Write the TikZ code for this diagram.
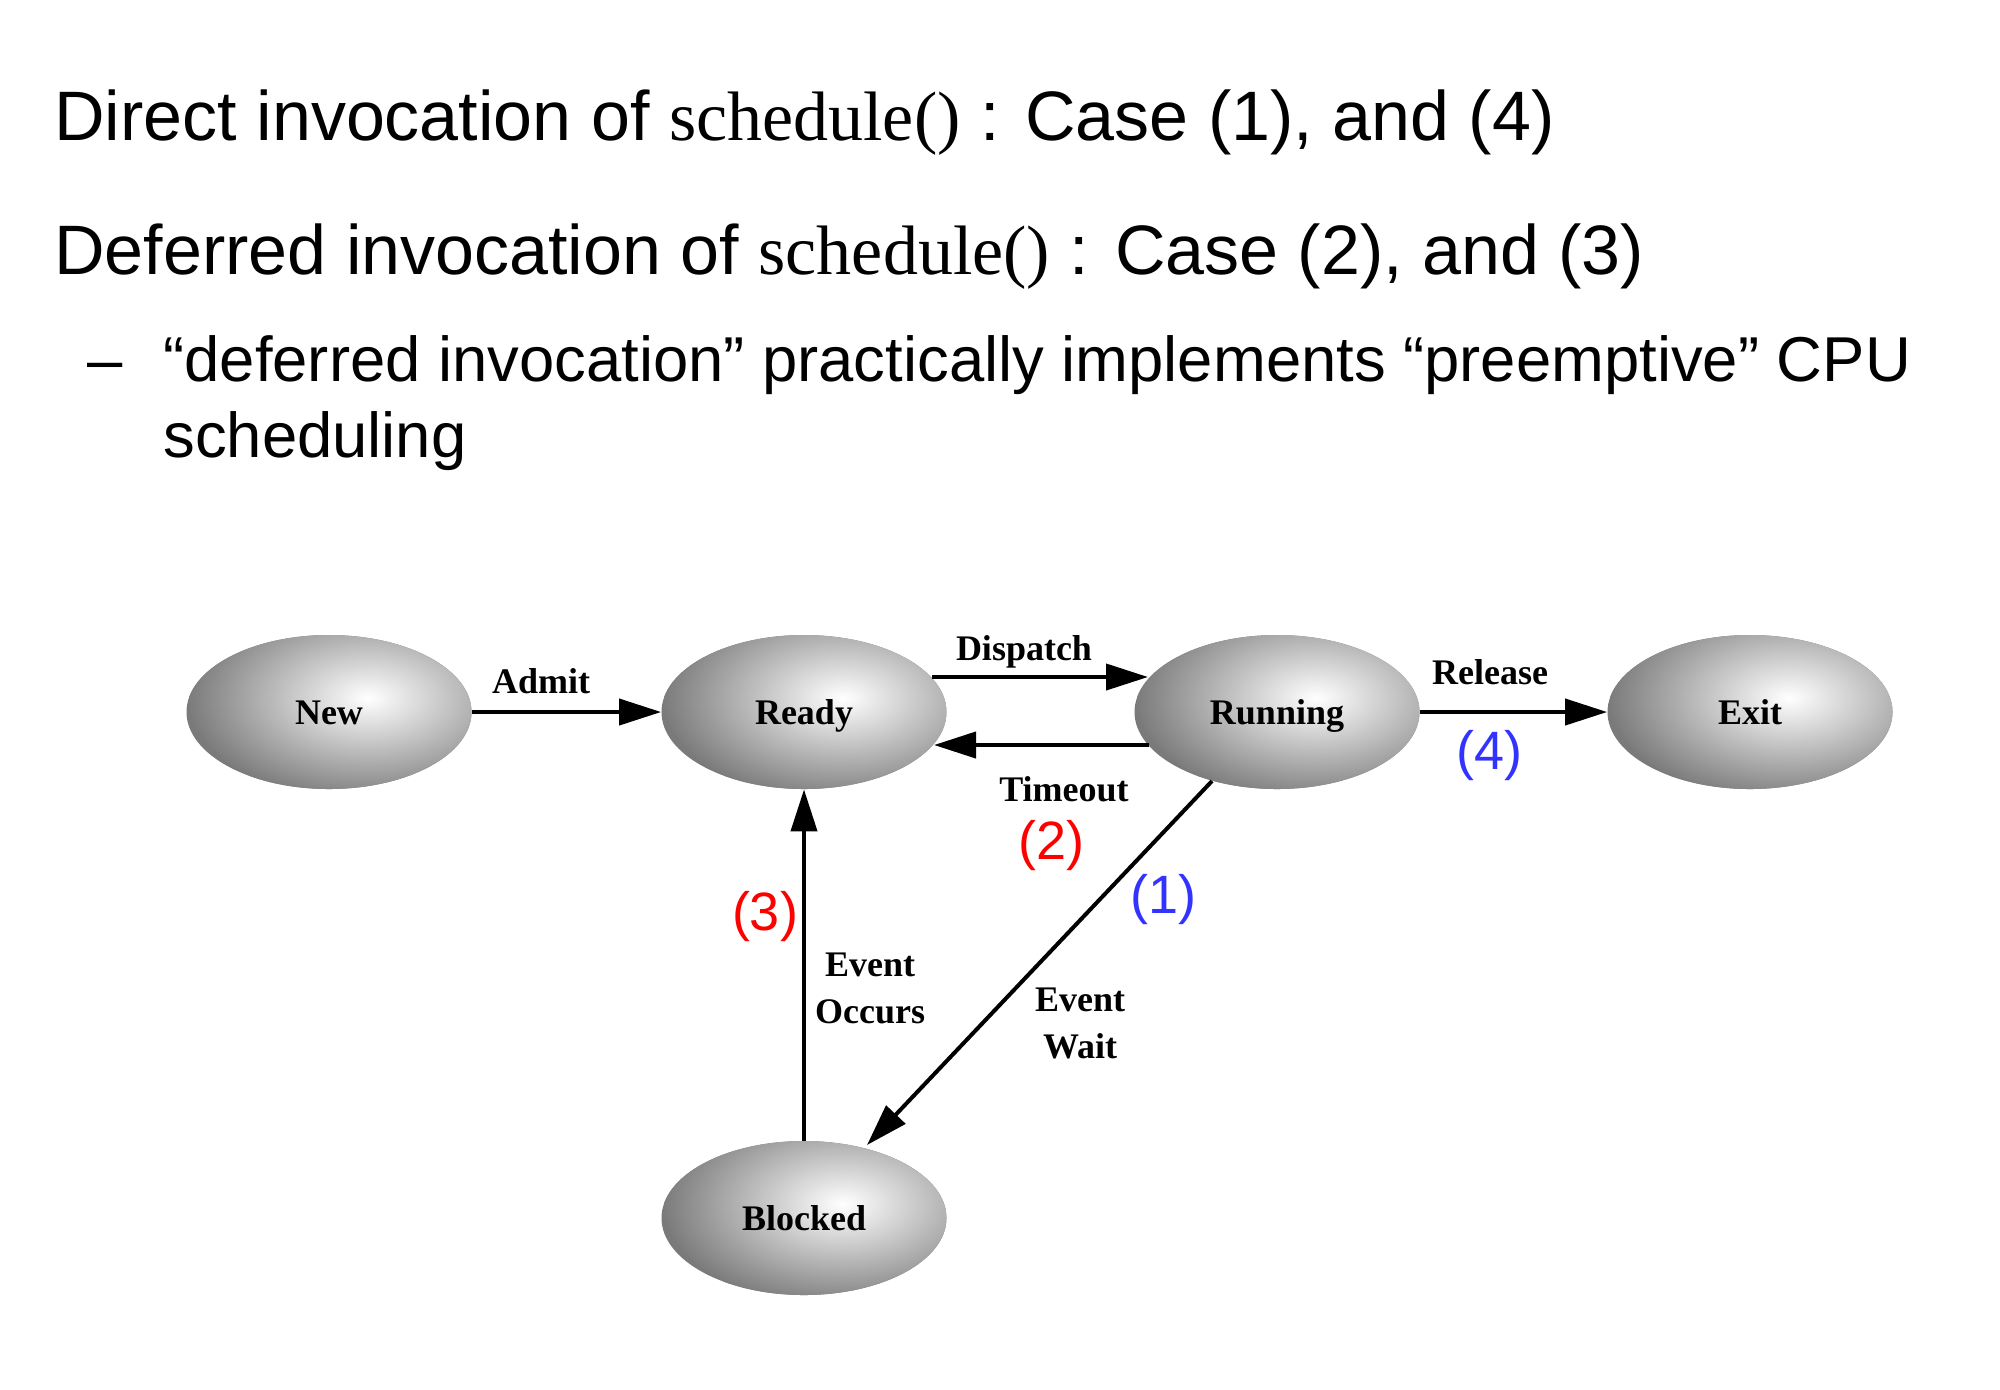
\documentclass[tikz,border=0pt]{standalone}
\usepackage{fontspec}
\setmainfont{Liberation Serif}
\newfontfamily\arialf{Liberation Sans}
\usetikzlibrary{shapes.geometric,arrows.meta,calc}
\definecolor{numred}{RGB}{255,0,0}
\definecolor{numblue}{RGB}{51,51,255}
\tikzset{
  state/.style={ellipse, minimum width=142.5pt, minimum height=77pt, inner sep=0pt,
    fill=black!52, text height=12pt, text depth=0pt,
    font=\bfseries\fontsize{18}{20}\selectfont,
    path picture={\shade[inner color=white, outer color=black!52]
      ([xshift=20pt,yshift=7pt]path picture bounding box.center) ellipse (90pt and 52pt);}},
  arr/.style={line width=2pt, -{Triangle[length=21pt,width=13pt]}},
  elab/.style={font=\bfseries\fontsize{18}{23.5}\selectfont, inner sep=0pt, align=center},
  numlab/.style={font=\arialf\fontsize{27}{30}\selectfont, inner sep=0pt},
  head/.style={font=\arialf\fontsize{35}{40}\selectfont, anchor=base west, inner sep=0pt},
  sub/.style={font=\arialf\fontsize{31.7}{36}\selectfont, anchor=base west, inner sep=0pt},
}
\begin{document}
\begin{tikzpicture}[x=0.5pt,y=-0.5pt]
\useasboundingbox[fill=white] (0,0) rectangle (2000,1389);
% heading text
\node[head] (t1) at (54,140) {Direct invocation of {\rmfamily schedule()} : Case (1), and (4)};
\node[head] (t2) at (54,274) {Deferred invocation of {\rmfamily schedule()} : Case (2), and (3)};
\node[sub] (dash) at (87,381) {–};
\node[sub] (t3) at (163,381) {“deferred invocation” practically implements “preemptive” CPU};
\node[sub] (t4) at (163,457) {scheduling};
% states
\node[state] (new) at (329,712) {New};
\node[state] (ready) at (804,712) {Ready};
\node[state] (running) at (1277,712) {Running};
\node[state] (exit) at (1750,712) {Exit};
\node[state] (blocked) at (804,1218) {Blocked};
% transitions
\draw[arr] (new) -- (ready);
\draw[arr] ($(ready.center)+(128,-35)$) -- ($(running.center)+(-129,-35)$);
\draw[arr] ($(running.center)+(-128,33)$) -- ($(ready.center)+(130,33)$);
\draw[arr] (running) -- (exit);
\draw[arr] ($(running.center)+(-65,69)$) -- ($(blocked.center)+(63,-73)$);
\draw[arr] (blocked) -- (ready);
% labels
\node[elab] (ladmit) at (541,681) {Admit};
\node[elab] (ldisp) at (1024,652) {Dispatch};
\node[elab] (ltime) at (1064,789) {Timeout};
\node[elab] (lrel) at (1490,672) {Release};
\node[elab] (lwait) at (1080,1023) {Event\\Wait};
\node[elab] (locc) at (870,988) {Event\\Occurs};
% case numbers
\node[numlab, text=numred] (n2) at (1051,846) {(2)};
\node[numlab, text=numred] (n3) at (765,917) {(3)};
\node[numlab, text=numblue] (n1) at (1163,899) {(1)};
\node[numlab, text=numblue] (n4) at (1489,756) {(4)};
\end{tikzpicture}
\end{document}
